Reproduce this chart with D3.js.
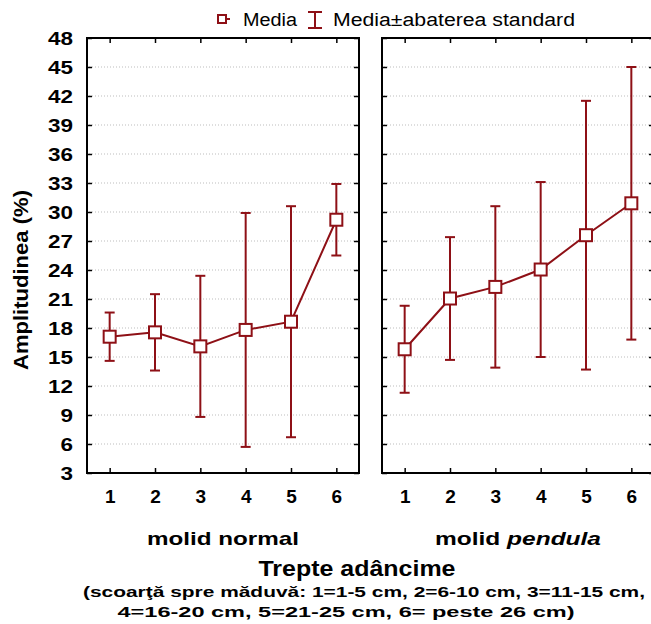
<!DOCTYPE html>
<html>
<head>
<meta charset="utf-8">
<script src="https://cdn.jsdelivr.net/npm/d3@7"></script>
<style>
  body { margin: 0; background: #fff; }
  text { font-family: "Liberation Sans", Arial, sans-serif; }
</style>
</head>
<body>
<svg id="chart" width="651" height="624"></svg>
<script>
// trepte adancime (1 = scoarta ... 6 = maduva)
var categories = ["1", "2", "3", "4", "5", "6"];
var yTicks = [3, 6, 9, 12, 15, 18, 21, 24, 27, 30, 33, 36, 39, 42, 45, 48];

// molid normal: media si abaterea standard
var normalMean = [17.1, 17.55, 16.1, 17.8, 18.65, 29.2];
var normalSd = [2.5, 3.95, 7.3, 12.1, 11.95, 3.7];

// molid pendula
var pendulaMean = [15.8, 21.05, 22.25, 24.05, 27.6, 30.9];
var pendulaSd = [4.5, 6.35, 8.35, 9.05, 13.9, 14.1];

var red = "#8e1016";
var svg = d3.select("#chart");
var top0 = 38, bottom0 = 473;

var y = d3.scaleLinear().domain([3, 48]).range([bottom0, top0]);

// tekst usor latit, ca in figura originala
function label(g, x, yy, str, size, weight, anchor, len) {
  var t = g.append("text")
    .attr("x", x).attr("y", yy)
    .attr("font-size", size)
    .attr("font-weight", weight)
    .attr("text-anchor", anchor || "middle")
    .attr("fill", "#000")
    .text(str);
  if (len) t.attr("textLength", len).attr("lengthAdjust", "spacingAndGlyphs");
  return t;
}

function drawPanel(x0, x1, means, sds, showLeftLabels) {
  var x = d3.scalePoint().domain(categories).range([x0, x1]).padding(0.5);
  var g = svg.append("g");

  // grila punctata
  g.append("g").selectAll("line")
    .data(yTicks.filter(function (d) { return d > 3 && d < 48; }))
    .enter().append("line")
    .attr("x1", x0 + 2).attr("x2", x1 - 2)
    .attr("y1", function (d) { return y(d); })
    .attr("y2", function (d) { return y(d); })
    .attr("stroke", "#bdbdbd")
    .attr("stroke-width", 1)
    .attr("stroke-dasharray", "1,2");

  // axe cu tickuri spre interior
  var left = g.append("g").attr("transform", "translate(" + x0 + ",0)")
    .call(d3.axisLeft(y).tickValues(yTicks).tickSizeInner(-5).tickSizeOuter(0).tickPadding(14));
  var right = g.append("g").attr("transform", "translate(" + x1 + ",0)")
    .call(d3.axisRight(y).tickValues(yTicks).tickSizeInner(-5).tickSizeOuter(0).tickFormat(""));
  var topAx = g.append("g").attr("transform", "translate(0," + top0 + ")")
    .call(d3.axisTop(x).tickSizeInner(-5).tickSizeOuter(0).tickFormat(""));
  var bottom = g.append("g").attr("transform", "translate(0," + bottom0 + ")")
    .call(d3.axisBottom(x).tickSizeInner(-5).tickSizeOuter(0).tickPadding(17));

  [left, right, topAx, bottom].forEach(function (a) {
    a.select(".domain").remove();
    a.selectAll(".tick line").attr("stroke", "#000").attr("stroke-width", 1.5);
  });
  left.selectAll(".tick text")
    .attr("font-size", 18).attr("font-weight", "bold").attr("fill", "#000")
    .attr("font-family", "Liberation Sans, Arial, sans-serif")
    .attr("dy", "0.36em")
    .attr("textLength", function (d) { return String(d).length * 12.5; })
    .attr("lengthAdjust", "spacingAndGlyphs");
  if (!showLeftLabels) left.selectAll(".tick text").remove();
  bottom.selectAll(".tick text")
    .attr("font-size", 19).attr("font-weight", "bold").attr("fill", "#000")
    .attr("font-family", "Liberation Sans, Arial, sans-serif");

  // cadru
  g.append("rect")
    .attr("x", x0).attr("y", top0)
    .attr("width", x1 - x0).attr("height", bottom0 - top0)
    .attr("fill", "none").attr("stroke", "#000").attr("stroke-width", 2);

  var pts = means.map(function (m, i) {
    return { c: categories[i], m: m, lo: m - sds[i], hi: m + sds[i] };
  });

  // bare de eroare
  var eb = g.append("g").selectAll("g").data(pts).enter().append("g")
    .attr("stroke", red).attr("stroke-width", 2).attr("fill", "none");
  eb.append("line")
    .attr("x1", function (d) { return x(d.c); }).attr("x2", function (d) { return x(d.c); })
    .attr("y1", function (d) { return y(d.hi); }).attr("y2", function (d) { return y(d.lo); });
  eb.append("line")
    .attr("x1", function (d) { return x(d.c) - 5; }).attr("x2", function (d) { return x(d.c) + 5; })
    .attr("y1", function (d) { return y(d.hi); }).attr("y2", function (d) { return y(d.hi); });
  eb.append("line")
    .attr("x1", function (d) { return x(d.c) - 5; }).attr("x2", function (d) { return x(d.c) + 5; })
    .attr("y1", function (d) { return y(d.lo); }).attr("y2", function (d) { return y(d.lo); });

  // linia mediilor
  g.append("path")
    .datum(pts)
    .attr("fill", "none").attr("stroke", red).attr("stroke-width", 2)
    .attr("d", d3.line().x(function (d) { return x(d.c); }).y(function (d) { return y(d.m); }));

  g.append("g").selectAll("rect").data(pts).enter().append("rect")
    .attr("x", function (d) { return x(d.c) - 6; })
    .attr("y", function (d) { return y(d.m) - 6; })
    .attr("width", 12).attr("height", 12)
    .attr("fill", "#fff").attr("stroke", red).attr("stroke-width", 2);

  return x;
}

drawPanel(87, 359, normalMean, normalSd, true);
drawPanel(382, 654, pendulaMean, pendulaSd, false);

// legenda
var leg = svg.append("g");
leg.append("rect").attr("x", 218).attr("y", 15).attr("width", 8).attr("height", 8)
  .attr("fill", "#fff").attr("stroke", red).attr("stroke-width", 2);
leg.append("line").attr("x1", 226).attr("x2", 230).attr("y1", 19).attr("y2", 19)
  .attr("stroke", red).attr("stroke-width", 2);
label(leg, 243, 26, "Media", 18, "normal", "start", 54);
leg.append("path").attr("d", "M308,12H322M315,12V28M308,28H322")
  .attr("fill", "none").attr("stroke", red).attr("stroke-width", 2);
label(leg, 333, 26, "Media\u00b1abaterea standard", 18, "normal", "start", 242);

// titluri
label(svg, 223, 545, "molid normal", 19, "bold", "middle", 152);
var pend = label(svg, 518, 545, "", 19, "bold", "middle", 166);
pend.append("tspan").text("molid ");
pend.append("tspan").attr("font-style", "italic").text("pendula");
label(svg, 357, 576, "Trepte ad\u00e2ncime", 22, "bold", "middle", 197);
label(svg, 364, 597, "(scoar\u0163\u0103 spre m\u0103duv\u0103: 1=1-5 cm, 2=6-10 cm, 3=11-15 cm,", 15, "bold", "middle", 562);
label(svg, 346, 617, "4=16-20 cm, 5=21-25 cm, 6= peste 26 cm)", 15, "bold", "middle", 457);

var yt = label(svg, 0, 0, "Amplitudinea (%)", 20, "bold", "middle", 180)
  .attr("transform", "translate(28,280) rotate(-90)");
</script>
</body>
</html>
